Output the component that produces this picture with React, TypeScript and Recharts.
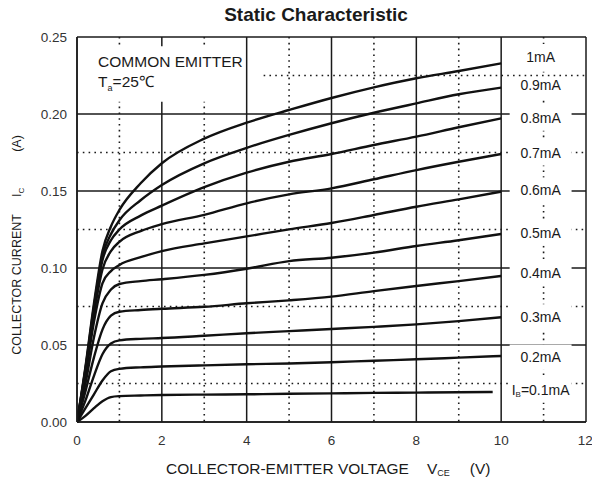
import {
  CartesianGrid,
  Label,
  Line,
  LineChart,
  ReferenceArea,
  ReferenceLine,
  XAxis,
  YAxis,
} from "recharts";

// collector-emitter voltage samples (V)
const vce = [0, 0.2, 0.4, 0.6, 0.8, 1, 1.5, 2, 3, 4, 5, 6, 7, 8, 9, 10];
const vceLow = [0, 0.2, 0.4, 0.6, 0.8, 1, 1.5, 2, 3, 4, 5, 6, 7, 8, 9, 9.8];

// collector current (A) per base current
const ib01 = [0, 0.004, 0.009, 0.0135, 0.0162, 0.0168, 0.0172, 0.0175, 0.0178, 0.018, 0.0183, 0.0186, 0.0189, 0.0191, 0.0193, 0.0195];
const ib02 = [0, 0.009, 0.018, 0.027, 0.033, 0.0345, 0.0355, 0.036, 0.0368, 0.0375, 0.038, 0.0388, 0.0398, 0.0407, 0.0418, 0.0429];
const ib03 = [0, 0.014, 0.03, 0.044, 0.051, 0.053, 0.054, 0.0545, 0.056, 0.0576, 0.059, 0.0604, 0.0618, 0.0634, 0.0655, 0.068];
const ib04 = [0, 0.02, 0.042, 0.06, 0.069, 0.0716, 0.0727, 0.0735, 0.0748, 0.0771, 0.079, 0.0814, 0.085, 0.0883, 0.0915, 0.0948];
const ib05 = [0, 0.025, 0.055, 0.077, 0.086, 0.0896, 0.0915, 0.0927, 0.0955, 0.0995, 0.1045, 0.1067, 0.11, 0.1143, 0.118, 0.1221];
const ib06 = [0, 0.03, 0.065, 0.09, 0.098, 0.102, 0.107, 0.111, 0.116, 0.1205, 0.1251, 0.1292, 0.1344, 0.1398, 0.1446, 0.1496];
const ib07 = [0, 0.032, 0.07, 0.099, 0.111, 0.117, 0.124, 0.1285, 0.1345, 0.142, 0.1478, 0.1517, 0.1576, 0.1636, 0.169, 0.174];
const ib08 = [0, 0.034, 0.073, 0.105, 0.118, 0.125, 0.134, 0.1405, 0.1525, 0.1619, 0.169, 0.174, 0.1799, 0.1853, 0.1914, 0.1972];
const ib09 = [0, 0.035, 0.075, 0.108, 0.122, 0.131, 0.144, 0.1539, 0.168, 0.178, 0.1864, 0.194, 0.2008, 0.2069, 0.2128, 0.2171];
const ib10 = [0, 0.036, 0.077, 0.111, 0.127, 0.1377, 0.155, 0.168, 0.184, 0.1944, 0.2026, 0.2104, 0.2173, 0.2232, 0.2279, 0.2329];

const curveNames = ["0.1mA", "0.2mA", "0.3mA", "0.4mA", "0.5mA", "0.6mA", "0.7mA", "0.8mA", "0.9mA", "1mA"];
const curveValues = [ib01, ib02, ib03, ib04, ib05, ib06, ib07, ib08, ib09, ib10];

// where each curve name sits at the right of the plot
const labelText = ["IB=0.1mA", "0.2mA", "0.3mA", "0.4mA", "0.5mA", "0.6mA", "0.7mA", "0.8mA", "0.9mA", "1mA"];
const labelAt = [0.0208, 0.0422, 0.0682, 0.0968, 0.1227, 0.1506, 0.1747, 0.1974, 0.2188, 0.2372];

const xTicks = [0, 2, 4, 6, 8, 10, 12];
const yTicks = [0, 0.05, 0.1, 0.15, 0.2, 0.25];
const minorX = [1, 3, 5, 7, 9, 11];
const minorY = [0.025, 0.075, 0.125, 0.175];

const FONT = "'Liberation Sans', Arial, sans-serif";
const INK = "#1a1a1a";

function toPoints(xs: number[], ys: number[]) {
  return xs.map((x, i) => ({ x, y: ys[i] }));
}

function YTitle(props: any) {
  const vb = props.viewBox;
  const cx = vb.x + 17;
  const cy = 245;
  return (
    <text
      x={cx}
      y={cy}
      transform={`rotate(-90 ${cx} ${cy})`}
      textAnchor="middle"
      dominantBaseline="central"
      fontFamily={FONT}
      fontSize={12.5}
      fill={INK}
    >
      COLLECTOR CURRENT
      <tspan dx={17}>I</tspan>
      <tspan dy={4} fontSize={8}>C</tspan>
      <tspan dy={-4} dx={36}>(A)</tspan>
    </text>
  );
}

function XTitle(props: any) {
  const vb = props.viewBox;
  return (
    <text
      x={166}
      y={vb.y + 46}
      dominantBaseline="central"
      fontFamily={FONT}
      fontSize={15.5}
      fill={INK}
    >
      COLLECTOR-EMITTER VOLTAGE
      <tspan dx={18}>V</tspan>
      <tspan dy={5} fontSize={9}>CE</tspan>
      <tspan dy={-5} dx={20}>(V)</tspan>
    </text>
  );
}

function NoteBox(props: any) {
  const vb = props.viewBox;
  return (
    <text fontFamily={FONT} fontSize={15.5} fill={INK}>
      <tspan x={vb.x + 19} y={vb.y + 21}>COMMON EMITTER</tspan>
      <tspan x={vb.x + 19} y={vb.y + 41}>T</tspan>
      <tspan dy={4} fontSize={9}>a</tspan>
      <tspan dy={-4}>=25℃</tspan>
    </text>
  );
}

function CurveTag(text: string) {
  return (props: any) => {
    const vb = props.viewBox;
    const cx = vb.x + vb.width / 2;
    const cy = vb.y + vb.height / 2;
    if (text.startsWith("IB")) {
      return (
        <text x={cx} y={cy} textAnchor="middle" dominantBaseline="central" fontFamily={FONT} fontSize={14} fill={INK}>
          I<tspan dy={4} fontSize={8}>B</tspan>
          <tspan dy={-4}>=0.1mA</tspan>
        </text>
      );
    }
    return (
      <text x={cx} y={cy} textAnchor="middle" dominantBaseline="central" fontFamily={FONT} fontSize={14} fill={INK}>
        {text}
      </text>
    );
  };
}

export default function App() {
  return (
    <div style={{ position: "absolute", left: 0, top: 0, width: 592, height: 480, background: "#fff" }}>
      <div
        style={{
          position: "absolute",
          left: 0,
          top: 4,
          width: 632,
          textAlign: "center",
          fontFamily: FONT,
          fontWeight: "bold",
          fontSize: 19,
          color: INK,
        }}
      >
        Static Characteristic
      </div>
      <LineChart
        width={592}
        height={480}
        margin={{ top: 37, right: 6, bottom: 0, left: 0 }}
      >
        <CartesianGrid
          stroke={INK}
          strokeWidth={1.5}
          verticalValues={xTicks}
          horizontalValues={yTicks}
        />
        <CartesianGrid
          stroke={INK}
          strokeWidth={1.6}
          strokeDasharray="1.6 4.2"
          verticalValues={minorX}
          horizontalValues={minorY}
        />
        <XAxis
          type="number"
          dataKey="x"
          domain={[0, 12]}
          ticks={xTicks}
          allowDataOverflow
          height={58}
          tickLine={false}
          axisLine={{ stroke: INK, strokeWidth: 1.5 }}
          tickMargin={7}
          tick={{ fill: "#333", fontSize: 13.5, fontFamily: FONT }}
        >
          <Label content={XTitle} />
        </XAxis>
        <YAxis
          type="number"
          domain={[0, 0.25]}
          ticks={yTicks}
          width={77}
          tickLine={false}
          axisLine={{ stroke: INK, strokeWidth: 1.5 }}
          tickMargin={4}
          tickFormatter={(v: number) => v.toFixed(2)}
          tick={{ fill: "#333", fontSize: 13.5, fontFamily: FONT }}
        >
          <Label content={YTitle} />
        </YAxis>
        <ReferenceLine
          segment={[
            { x: 4.4, y: 0.225 },
            { x: 12, y: 0.225 },
          ]}
          stroke={INK}
          strokeWidth={1.6}
          strokeDasharray="1.6 4.2"
        />
        <ReferenceArea
          x1={0.05}
          x2={3.92}
          y1={0.208}
          y2={0.244}
          fill="#fff"
          fillOpacity={1}
          stroke="none"
          label={<Label content={NoteBox} />}
        />
        {labelText.map((t, i) => (
          <ReferenceArea
            key={t}
            x1={10.2}
            x2={11.66}
            y1={labelAt[i] - 0.0082}
            y2={labelAt[i] + 0.0082}
            fill="#fff"
            fillOpacity={1}
            stroke="none"
            label={<Label content={CurveTag(t)} />}
          />
        ))}
        {curveValues.map((ys, i) => (
          <Line
            key={curveNames[i]}
            data={toPoints(i === 0 ? vceLow : vce, ys)}
            dataKey="y"
            name={curveNames[i]}
            type="monotone"
            stroke="#111"
            strokeWidth={2.4}
            dot={false}
            isAnimationActive={false}
          />
        ))}
      </LineChart>
    </div>
  );
}
